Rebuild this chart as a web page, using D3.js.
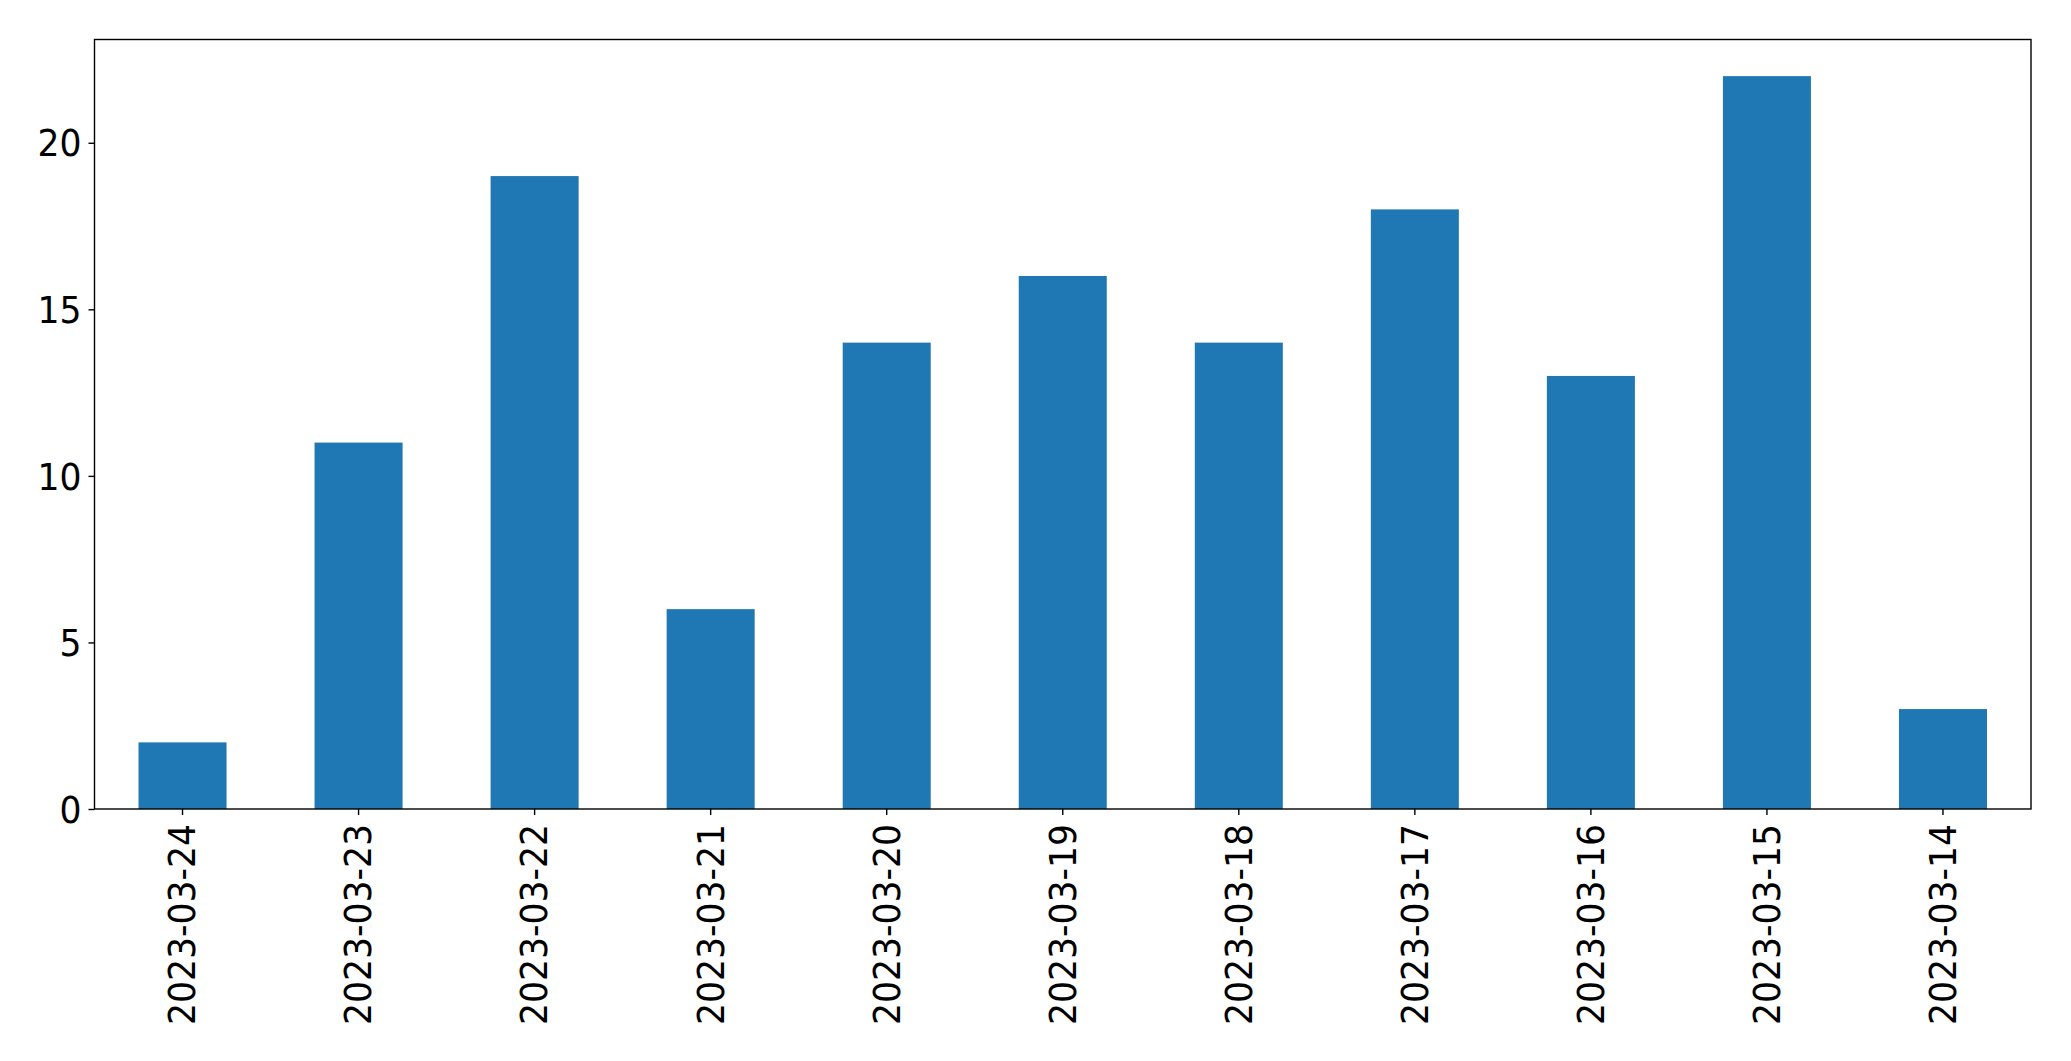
<!DOCTYPE html>
<html>
<head>
<meta charset="utf-8">
<script src="https://cdn.jsdelivr.net/npm/d3@7"></script>
<style>
  html, body { margin: 0; padding: 0; background: #fff; }
  svg { display: block; }
</style>
</head>
<body>
<script>
const categories = ["2023-03-24","2023-03-23","2023-03-22","2023-03-21","2023-03-20","2023-03-19","2023-03-18","2023-03-17","2023-03-16","2023-03-15","2023-03-14"];
const values = [2, 11, 19, 6, 14, 16, 14, 18, 13, 22, 3];
const yTicks = [0, 5, 10, 15, 20];

(function () {
const W = 2071, H = 1061;
const mLeft = 94.5, mRight = 2031, mTop = 39.5, mBottom = 809;
const fontSize = 36.6;
const squeeze = 0.945;
const font = "'DejaVu Sans', sans-serif";

const svg = d3.select("body").append("svg").attr("width", W).attr("height", H);

const x = d3.scaleBand().domain(categories).range([mLeft, mRight]).paddingInner(0.5).paddingOuter(0.25);
const yMax = d3.max(values) * 1.05;
const y = d3.scaleLinear().domain([0, yMax]).range([mBottom, mTop]);

svg.append("g").selectAll("rect").data(values).join("rect")
  .attr("x", (d, i) => x(categories[i]))
  .attr("width", x.bandwidth())
  .attr("y", d => y(d))
  .attr("height", d => y(0) - y(d))
  .attr("fill", "#1f77b4");

const yAxis = d3.axisLeft(y).tickValues(yTicks).tickSize(6).tickPadding(7).tickFormat(d3.format("d"));
const gy = svg.append("g").attr("transform", `translate(${mLeft},0)`).call(yAxis);
gy.select(".domain").remove();
gy.selectAll("line").attr("stroke", "#000").attr("stroke-width", 1.4);
gy.selectAll("text")
  .attr("font-family", font).attr("font-size", fontSize).attr("fill", "#000")
  .attr("x", 0).attr("dy", "0.36em")
  .attr("transform", `translate(-13,0) scale(${squeeze},1)`);

const xAxis = d3.axisBottom(x).tickSize(6).tickPadding(0);
const gx = svg.append("g").attr("transform", `translate(0,${mBottom})`).call(xAxis);
gx.select(".domain").remove();
gx.selectAll("line").attr("stroke", "#000").attr("stroke-width", 1.4);
gx.selectAll("text")
  .attr("font-family", font).attr("font-size", fontSize).attr("fill", "#000")
  .attr("text-anchor", "end")
  .attr("dy", null)
  .attr("transform", `translate(0,15) rotate(-90) scale(${squeeze},1)`)
  .attr("x", 0).attr("y", 0)
  .attr("dominant-baseline", "central");

svg.append("rect")
  .attr("x", mLeft).attr("y", mTop)
  .attr("width", mRight - mLeft).attr("height", mBottom - mTop)
  .attr("fill", "none").attr("stroke", "#000").attr("stroke-width", 1.4);
})();
</script>
</body>
</html>
